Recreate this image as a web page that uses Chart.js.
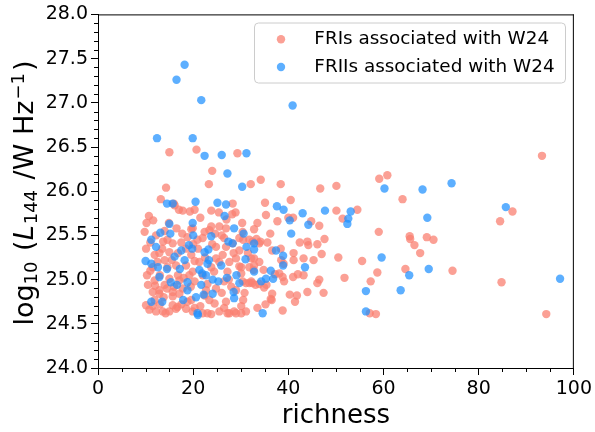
<!DOCTYPE html>
<html>
<head>
<meta charset="utf-8">
<script src="https://cdn.jsdelivr.net/npm/chart.js@4"></script>
<style>
html,body{margin:0;padding:0;background:#fff;}
canvas{display:block;}
</style>
</head>
<body>
<canvas id="c" width="595" height="432"></canvas>
<script>
// Axis ticks and labels
const xTicks = [0, 20, 40, 60, 80, 100];
const yTicks = [24.0, 24.5, 25.0, 25.5, 26.0, 26.5, 27.0, 27.5, 28.0];
const xTitle = 'richness';
const seriesLabels = ['FRIs associated with W24', 'FRIIs associated with W24'];

// FRI sources: cluster richness and log10 L144 (W/Hz)
const friRichness = [
  15.0,20.7,29.3,24.0,23.3,32.1,34.2,38.4,14.3,13.2,
  40.5,15.9,28.3,35.1,46.7,50.1,59.1,60.8,64.0,93.3,
  50.1,54.5,51.4,59.0,65.5,65.6,66.5,67.7,69.1,70.5,
  84.5,87.1,50.5,55.5,58.7,51.8,57.3,64.6,74.5,84.8,
  57.1,58.4,94.2,
  16.1,17.0,17.8,19.3,20.3,23.8,25.4,28.9,28.2,10.7,
  10.2,11.6,14.9,19.9,22.4,23.8,25.5,26.9,30.3,
  35.3,33.5,37.7,40.0,41.0,44.8,46.5,32.8,36.2,33.3,
  34.1,35.6,38.4,36.6,41.1,41.1,42.4,44.0,44.2,46.1,
  47.6,47.0,43.2,45.3,32.8,33.9,38.5,39.0,32.7,34.8,
  37.2,38.8,39.1,41.0,42.0,43.2,46.5,46.1,33.9,34.9,
  35.4,32.4,44.0,47.4,40.3,41.8,41.4,36.6,36.3,35.2,
  33.5,38.8,31.8,31.8,
  30.4,33.9,32.5,32.2,31.8,32.8,29.7,30.1,38.1,31.1,32.2,33.1,
  36.5,31.1,30.1,30.1,30.5,
  10.1,10.8,11.9,13.6,14.2,15.7,16.7,18.5,19.6,23.4,23.8,25.5,26.9,27.2,29.0,15.7,12.9,11.5,17.1,22.4,
  12.2,15.0,16.4,19.9,22.0,23.0,27.6,28.6,
  9.8,13.7,14.6,15.7,17.7,19.6,20.9,22.0,23.4,24.6,26.5,24.8,26.9,28.3,29.7,29.7,
  10.1,11.9,12.9,14.0,15.0,16.4,18.5,19.6,20.3,21.3,23.8,24.8,26.2,27.6,29.0,30.1,11.5,14.6,19.9,24.4,27.2,
  10.5,11.9,12.9,14.0,15.0,15.7,17.1,17.8,19.2,20.3,22.7,24.8,26.5,28.0,29.0,30.4,
  10.3,11.0,12.0,13.0,13.8,14.5,16.0,16.8,18.0,18.8,
  19.5,12.5,13.5,15.5,16.8,17.5,18.5,11.0,12.2,14.0,
  16.5,18.8,21.0,22.0,23.0,21.5,24.5,26.0,25.5,27.5,
  28.5,26.0,27.0,21.5,22.5,24.0,20.0,11.5,17.5,20.3,
  13.0,26.5,30.8,31.5,30.5
];
const friLum = [
  26.44,26.47,26.43,26.23,26.08,26.08,26.13,26.08,26.04,25.91,
  25.90,25.86,25.86,25.87,26.03,26.06,26.14,26.18,25.91,26.40,
  25.78,25.79,25.69,25.54,25.49,25.46,25.39,25.30,25.48,25.45,
  25.66,25.77,25.25,25.21,25.08,25.02,24.98,25.12,25.10,24.97,
  24.62,24.61,24.61,
  25.84,25.79,25.78,25.77,25.79,25.78,25.76,25.76,25.74,25.72,
  25.64,25.67,25.64,25.58,25.54,25.60,25.60,25.58,25.64,
  25.73,25.64,25.66,25.70,25.70,25.66,25.61,25.57,25.52,25.46,
  25.43,25.42,25.35,25.33,25.30,25.22,25.42,25.43,25.39,25.40,
  25.46,25.29,25.24,25.22,25.24,25.20,25.22,25.18,25.11,25.11,
  25.06,25.03,24.98,25.03,25.06,25.05,25.00,24.96,24.95,24.91,
  24.94,24.96,24.86,24.85,24.83,24.82,24.75,24.84,24.78,24.72,
  24.68,24.65,25.45,24.96,
  25.54,25.41,25.43,25.24,25.14,25.16,25.15,25.07,25.07,24.96,24.98,24.94,
  24.77,24.64,24.62,24.70,24.77,
  24.71,24.66,24.77,24.64,24.62,24.71,24.69,24.67,24.77,24.77,24.61,24.64,24.75,24.62,24.62,24.81,24.84,24.86,24.84,24.82,
  24.64,24.64,24.67,24.64,24.62,24.62,24.62,24.64,
  25.54,25.43,25.45,25.41,25.52,25.57,25.45,25.47,25.56,25.52,25.47,25.37,25.37,25.41,25.47,25.33,
  25.35,25.28,25.30,25.22,25.31,25.16,25.16,25.28,25.21,25.20,25.14,25.24,25.28,25.20,25.24,25.14,25.14,25.14,25.09,25.09,25.09,
  24.94,24.99,24.88,24.94,25.01,24.86,24.99,24.90,25.05,24.98,24.88,24.90,24.98,24.92,24.88,24.98,
  25.05,25.10,24.93,25.05,24.80,24.90,24.92,25.05,25.02,24.75,
  24.92,25.20,25.35,25.22,25.30,25.42,25.35,25.42,25.50,25.55,
  25.58,25.48,25.35,25.05,24.95,24.70,24.73,24.85,25.20,25.00,
  25.30,25.50,25.68,25.70,25.25,25.40,25.40,24.70,24.72,24.68,
  24.72,24.68,24.85,25.30,25.45
];

// FRII sources: cluster richness and log10 L144 (W/Hz)
const friiRichness = [
  12.4,16.5,18.2,21.7,19.9,22.4,26.0,31.2,27.2,30.3,
  40.9,14.5,15.7,20.5,25.1,26.9,37.6,39.0,60.2,68.2,
  74.3,53.1,52.6,52.4,69.2,85.7,59.6,69.5,65.4,56.3,
  63.6,97.1,56.3,43.0,47.7,40.3,44.2,40.6,32.8,32.8,
  37.4,38.9,38.9,43.5,32.8,36.3,35.3,34.3,36.8,34.6,
  26.6,15.0,19.9,13.1,15.2,11.2,12.2,23.8,28.6,30.6,
  27.4,28.3,31.2,19.1,19.8,17.5,22.4,23.2,10.0,11.2,
  12.6,14.5,16.1,18.2,17.2,21.3,21.9,23.3,23.0,25.9,
  24.1,25.3,27.1,29.1,29.7,31.0,12.9,15.3,16.6,18.8,
  18.8,21.7,24.1,28.5,28.6,20.6,17.9,11.2,13.5,20.9,
  20.0,22.7,22.2,21.0
];
const friiLum = [
  26.60,27.26,27.43,27.03,26.60,26.40,26.41,26.43,26.20,26.05,
  26.97,25.86,25.86,25.88,25.87,25.85,25.83,25.79,26.03,26.02,
  26.09,25.77,25.69,25.63,25.70,25.82,25.25,25.12,25.05,24.87,
  24.88,25.01,24.64,25.75,25.78,25.67,25.62,25.52,25.41,25.34,
  25.33,25.27,25.16,25.14,25.09,25.10,25.01,24.98,25.01,24.62,
  25.72,25.63,25.64,25.53,25.52,25.45,25.37,25.49,25.58,25.52,
  25.43,25.41,25.37,25.39,25.35,25.33,25.31,25.34,25.21,25.18,
  25.14,25.12,25.26,25.22,25.12,25.11,25.07,25.22,25.18,25.16,
  25.00,24.98,25.02,25.05,24.96,25.23,25.03,24.97,24.94,24.97,
  24.88,24.94,24.84,24.86,24.79,24.80,24.77,24.75,24.75,24.62,
  25.50,25.05,24.83,24.60
];

const FONT = '"DejaVu Sans", sans-serif';
const friColor = 'rgba(250,128,114,0.75)';
const friiColor = 'rgba(30,144,255,0.72)';

const zip = (xs, ys) => xs.map((x, i) => ({ x: x, y: ys[i] }));

// Minor ticks, top/right spines, axis titles and the framed legend
const decorations = {
  id: 'decorations',
  afterDraw(chart) {
    const ctx = chart.ctx;
    const a = chart.chartArea;
    const xs = chart.scales.x, ys = chart.scales.y;
    ctx.save();
    ctx.strokeStyle = '#000';
    ctx.lineWidth = 1;
    // spines on top and right
    ctx.beginPath();
    ctx.moveTo(a.left, a.top + 0.5); ctx.lineTo(a.right, a.top + 0.5);
    ctx.moveTo(a.right - 0.5, a.top); ctx.lineTo(a.right - 0.5, a.bottom);
    ctx.stroke();
    // minor ticks
    ctx.beginPath();
    for (let k = 0; k <= 20; k++) {
      if (k % 4 === 0) continue;
      const px = Math.round(xs.getPixelForValue(k * 5)) + 0.5;
      ctx.moveTo(px, a.bottom); ctx.lineTo(px, a.bottom + 4);
    }
    for (let k = 0; k <= 40; k++) {
      if (k % 5 === 0) continue;
      const py = Math.round(ys.getPixelForValue(24 + k * 0.1)) + 0.5;
      ctx.moveTo(a.left - 4, py); ctx.lineTo(a.left, py);
    }
    ctx.stroke();

    // x axis title
    ctx.fillStyle = '#000';
    ctx.font = '26px ' + FONT;
    ctx.textAlign = 'center';
    ctx.textBaseline = 'alphabetic';
    ctx.fillText(xTitle, (a.left + a.right) / 2, 422.5);

    // y axis title: log10 (L144 /W Hz^-1), set with sub/superscripts
    const parts = [
      { t: 'log', s: 27, dy: 0, gap: 0 },
      { t: '10', s: 18, dy: 4, gap: 2 },
      { t: ' (', s: 27, dy: 0, gap: 0 },
      { t: 'L', s: 27, dy: 0, it: true, gap: 1 },
      { t: '144', s: 18, dy: 4, gap: 2 },
      { t: ' /W Hz', s: 27, dy: 0, gap: 1 },
      { t: '\u22121', s: 18, dy: -9, gap: 2 },
      { t: ')', s: 27, dy: 0, gap: 0 }
    ];
    let total = 0;
    parts.forEach(p => {
      ctx.font = (p.it ? 'italic ' : '') + p.s + 'px ' + FONT;
      p.w = ctx.measureText(p.t).width + p.gap;
      total += p.w;
    });
    ctx.translate(33, 193);
    ctx.rotate(-Math.PI / 2);
    ctx.textAlign = 'left';
    let cx = -total / 2;
    parts.forEach(p => {
      ctx.font = (p.it ? 'italic ' : '') + p.s + 'px ' + FONT;
      ctx.fillText(p.t, cx, p.dy);
      cx += p.w;
    });
    ctx.restore();

    // legend box
    ctx.save();
    const bx = 254.5, by = 23, bw = 311, bh = 60, r = 4;
    ctx.beginPath();
    ctx.moveTo(bx + r, by);
    ctx.arcTo(bx + bw, by, bx + bw, by + bh, r);
    ctx.arcTo(bx + bw, by + bh, bx, by + bh, r);
    ctx.arcTo(bx, by + bh, bx, by, r);
    ctx.arcTo(bx, by, bx + bw, by, r);
    ctx.closePath();
    ctx.fillStyle = 'rgba(255,255,255,0.8)';
    ctx.fill();
    ctx.strokeStyle = '#cccccc';
    ctx.lineWidth = 1;
    ctx.stroke();
    ctx.font = '18.4px ' + FONT;
    ctx.textAlign = 'left';
    ctx.textBaseline = 'alphabetic';
    chart.data.datasets.forEach((ds, i) => {
      const cy = 39.3 + i * 27.7;
      ctx.beginPath();
      ctx.arc(281, cy, 4.2, 0, Math.PI * 2);
      ctx.fillStyle = ds.backgroundColor;
      ctx.fill();
      ctx.fillStyle = '#000';
      ctx.fillText(ds.label, 314.3, cy + 5);
    });
    ctx.restore();
  }
};

new Chart(document.getElementById('c'), {
  type: 'scatter',
  data: {
    datasets: [
      {
        label: seriesLabels[0],
        data: zip(friRichness, friLum),
        backgroundColor: friColor,
        borderWidth: 0,
        pointRadius: 4.2,
        order: 1
      },
      {
        label: seriesLabels[1],
        data: zip(friiRichness, friiLum),
        backgroundColor: friiColor,
        borderWidth: 0,
        pointRadius: 4.2,
        order: 0
      }
    ]
  },
  options: {
    responsive: false,
    animation: false,
    devicePixelRatio: 1,
    layout: { padding: { left: 0, top: 14, right: 20, bottom: 0 } },
    plugins: { legend: { display: false }, tooltip: { enabled: false } },
    scales: {
      x: {
        type: 'linear',
        min: 0, max: 100,
        afterBuildTicks: s => { s.ticks = xTicks.map(v => ({ value: v })); },
        afterFit: s => { s.height = 64; },
        grid: { display: true, drawOnChartArea: false, drawTicks: true, tickLength: 7, tickColor: '#000', tickWidth: 1 },
        border: { display: true, color: '#000', width: 1 },
        ticks: { color: '#000', font: { family: FONT, size: 19 }, padding: 3, maxRotation: 0, callback: v => String(v) }
      },
      y: {
        type: 'linear',
        min: 24, max: 28,
        afterBuildTicks: s => { s.ticks = yTicks.map(v => ({ value: v })); },
        afterFit: s => { s.width = 98; },
        grid: { display: true, drawOnChartArea: false, drawTicks: true, tickLength: 7, tickColor: '#000', tickWidth: 1 },
        border: { display: true, color: '#000', width: 1 },
        ticks: { color: '#000', font: { family: FONT, size: 19 }, padding: 3, callback: v => Number(v).toFixed(1) }
      }
    }
  },
  plugins: [decorations]
});
</script>
</body>
</html>
